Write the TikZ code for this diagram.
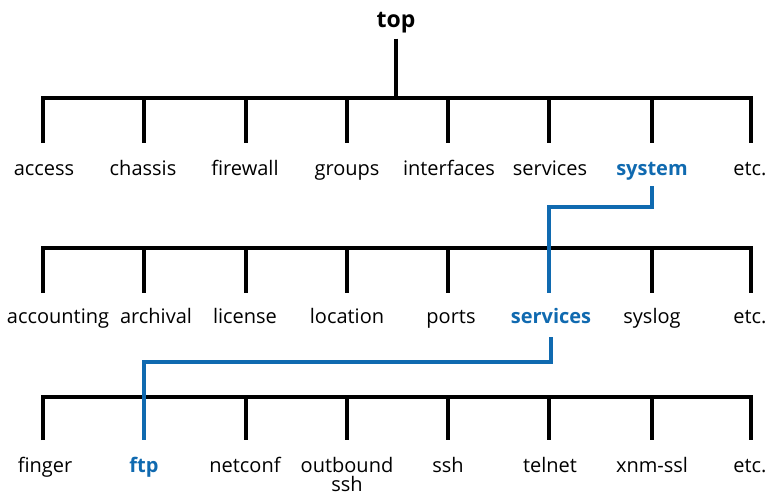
\documentclass[tikz,border=0pt]{standalone}
\usepackage{fontspec}
\setmainfont{Open Sans}
\usepackage{xcolor}
\usepackage{tikz}
\definecolor{pathblue}{RGB}{16,106,176}

\begin{document}
\begin{tikzpicture}[x=1pt, y=-1pt,
    bar/.style={line width=4pt},
    hl/.style={line width=3.4pt, draw=pathblue},
    lbl/.style={anchor=base, inner sep=0pt, font=\fontsize{20}{21}\selectfont},
    sel/.style={lbl, text=pathblue, font=\bfseries\fontsize{20}{21}\selectfont}]
  \useasboundingbox (0,0) rectangle (771,496);

  % bar junctions and drop ends, one row per level
  \foreach \x [count=\i] in {43,144,246,347,448,549,652,751} {
    \coordinate (u\i) at (\x,98);  \coordinate (U\i) at (\x,143);
    \coordinate (v\i) at (\x,248); \coordinate (V\i) at (\x,293);
    \coordinate (w\i) at (\x,397); \coordinate (W\i) at (\x,440);
  }

  \node (top) [anchor=base, inner sep=0pt, font=\bfseries\fontsize{23}{26}\selectfont] at (396,27) {top};

  \node (access)     [lbl] at (44,175)  {access};
  \node (chassis)    [lbl] at (143,175) {chassis};
  \node (firewall)   [lbl] at (245,175) {firewall};
  \node (groups)     [lbl] at (347,175) {groups};
  \node (interfaces) [lbl] at (449,175) {interfaces};
  \node (services)   [lbl] at (550,175) {services};
  \node (system)     [sel] at (652,175) {system};
  \node (etcA)       [lbl] at (750,175) {etc.};

  \node (accounting) [lbl] at (58,323)  {accounting};
  \node (archival)   [lbl] at (156,323) {archival};
  \node (license)    [lbl] at (245,323) {license};
  \node (location)   [lbl] at (347,323) {location};
  \node (ports)      [lbl] at (451,323) {ports};
  \node (sysservices)[sel] at (551,323) {services};
  \node (syslog)     [lbl] at (652,323) {syslog};
  \node (etcB)       [lbl] at (750,323) {etc.};

  \node (finger)     [lbl] at (45,472)  {finger};
  \node (ftp)        [sel] at (144,472) {ftp};
  \node (netconf)    [lbl] at (245,472) {netconf};
  % base of a two-line node sits on its last line
  \node (outbound)   [lbl, align=center, font=\fontsize{20}{19}\selectfont] at (347,491) {outbound\\ssh};
  \node (ssh)        [lbl] at (448,472) {ssh};
  \node (telnet)     [lbl] at (550,472) {telnet};
  \node (xnmssl)     [lbl] at (652,472) {xnm-ssl};
  \node (etcC)       [lbl] at (750,472) {etc.};

  % black tree
  \draw[bar, shorten <=6pt] (top) -- (top |- u1);
  \draw[bar] (U1) -- (u1) -- (u8) -- (U8);
  \foreach \i in {2,...,7} \draw[bar] (u\i) -- (U\i);
  \draw[bar] (V1) -- (v1) -- (v8) -- (V8);
  \foreach \i in {2,3,4,5,7} \draw[bar] (v\i) -- (V\i);
  \draw[bar] (W1) -- (w1) -- (w8) -- (W8);
  \foreach \i in {3,...,7} \draw[bar] (w\i) -- (W\i);

  % path down to ftp
  \draw[hl, shorten <=11pt] (system.base) -- ++(0,32) -| (V6);
  \draw[hl, shorten <=14pt] (sysservices.base) -- ++(0,39) -| (W2);
\end{tikzpicture}
\end{document}
